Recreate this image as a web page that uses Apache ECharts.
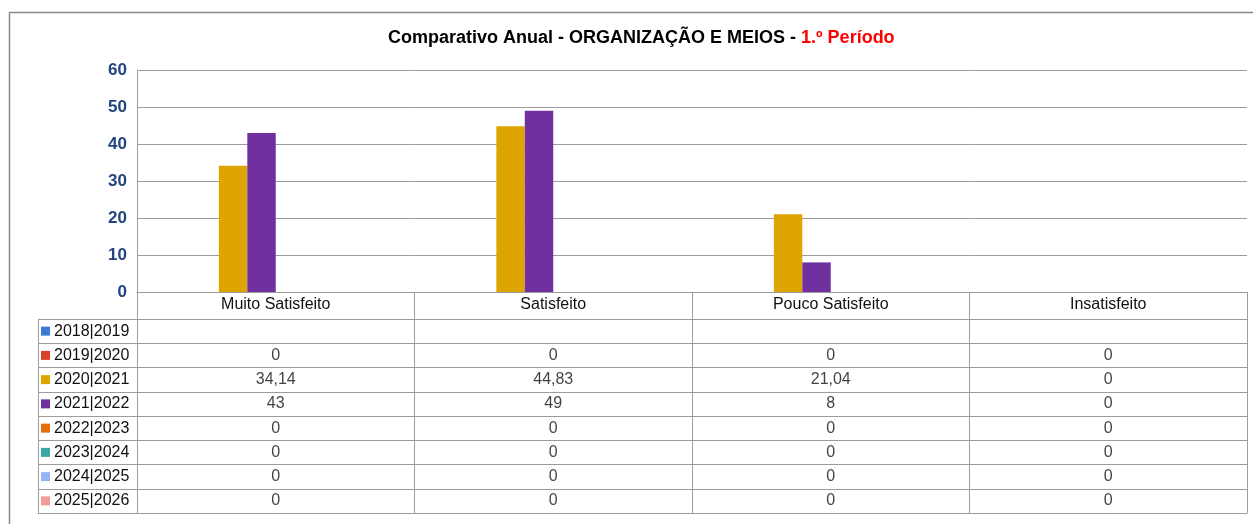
<!DOCTYPE html>
<html>
<head>
<meta charset="utf-8">
<title>Comparativo Anual</title>
<script src="https://cdn.jsdelivr.net/npm/echarts@6/dist/echarts.min.js"></script>
<style>
  html, body { margin: 0; padding: 0; background: #fff; }
  #container { width: 1253px; height: 524px; }
</style>
</head>
<body>
<div id="container"></div>
<script>
// dados
var categorias = ['Muito Satisfeito', 'Satisfeito', 'Pouco Satisfeito', 'Insatisfeito'];
var anos = ['2018|2019', '2019|2020', '2020|2021', '2021|2022', '2022|2023', '2023|2024', '2024|2025', '2025|2026'];
var v2018 = [null, null, null, null];
var v2019 = [0, 0, 0, 0];
var v2020 = [34.14, 44.83, 21.04, 0];
var v2021 = [43, 49, 8, 0];
var v2022 = [0, 0, 0, 0];
var v2023 = [0, 0, 0, 0];
var v2024 = [0, 0, 0, 0];
var v2025 = [0, 0, 0, 0];
var valores = [v2018, v2019, v2020, v2021, v2022, v2023, v2024, v2025];
var cores = ['#3a7bd5', '#d9412b', '#dea500', '#7030a0', '#e46c0a', '#3aa6a6', '#95b3f5', '#f29b98'];

document.addEventListener('DOMContentLoaded', function () {
    var dom = document.getElementById('container');
    var myChart = echarts.init(dom);

    var gridCor = '#9c9c9c';
    var fonte = 'Liberation Sans, Arial, sans-serif';

    // séries de barras (uma por ano lectivo)
    var series = anos.map(function (ano, i) {
        return {
            name: ano,
            type: 'bar',
            xAxisIndex: 0,
            yAxisIndex: 0,
            barGap: '0%',
            barCategoryGap: '18%',
            itemStyle: { color: cores[i] },
            data: valores[i]
        };
    });

    // tabela de dados por baixo do gráfico
    var celulas = [];
    valores.forEach(function (linha, i) {
        linha.forEach(function (v, j) {
            if (v !== null) celulas.push([categorias[j], anos[i], v]);
        });
    });
    series.push({
        type: 'scatter',
        xAxisIndex: 1,
        yAxisIndex: 1,
        symbolSize: 1,
        itemStyle: { color: 'transparent' },
        silent: true,
        label: {
            show: true,
            position: 'inside',
            color: '#111',
            fontFamily: fonte,
            fontSize: 16,
            formatter: function (p) { return String(p.value[2]).replace('.', ','); }
        },
        data: celulas
    });

    var rich = { t: { color: '#111', fontFamily: fonte, fontSize: 16, padding: [0, 0, 0, 4] } };
    cores.forEach(function (c, i) {
        rich['c' + i] = { width: 9, height: 9, backgroundColor: c };
    });

    var option = {
        animation: false,
        title: {
            text: '{a|Comparativo Anual - ORGANIZAÇÃO E MEIOS - }{b|1.º Período}',
            left: 383,
            top: 24,
            textStyle: {
                rich: {
                    a: { fontFamily: fonte, fontSize: 18, fontWeight: 'bold', color: '#000' },
                    b: { fontFamily: fonte, fontSize: 18, fontWeight: 'bold', color: '#ff0000' }
                }
            }
        },
        grid: [
            { left: 137, right: 6, top: 70, height: 222 },
            { left: 137, right: 6, top: 319, height: 194 }
        ],
        xAxis: [
            {
                type: 'category',
                gridIndex: 0,
                data: categorias,
                axisLine: { lineStyle: { color: gridCor } },
                axisTick: { show: true, length: 27, lineStyle: { color: gridCor } },
                axisLabel: { color: '#111', fontFamily: fonte, fontSize: 16, margin: 5, interval: 0 }
            },
            {
                type: 'category',
                gridIndex: 1,
                position: 'top',
                data: categorias,
                axisLine: { lineStyle: { color: gridCor } },
                axisTick: { show: false },
                axisLabel: { show: false },
                splitLine: { show: true, lineStyle: { color: gridCor } }
            }
        ],
        yAxis: [
            {
                type: 'value',
                gridIndex: 0,
                min: 0,
                max: 60,
                interval: 10,
                axisLine: { show: true, lineStyle: { color: gridCor } },
                axisTick: { show: false },
                axisLabel: { color: '#23457f', fontFamily: fonte, fontSize: 17, fontWeight: 'bold', margin: 10 },
                splitLine: { lineStyle: { color: gridCor } }
            },
            {
                type: 'category',
                gridIndex: 1,
                inverse: true,
                data: anos,
                axisLine: { show: true, lineStyle: { color: gridCor } },
                axisTick: { show: true, length: 99, lineStyle: { color: gridCor } },
                axisLabel: {
                    align: 'left',
                    margin: 96,
                    formatter: function (v, i) { return '{c' + i + '|}{t|' + v + '}'; },
                    rich: rich
                },
                splitLine: { show: true, lineStyle: { color: gridCor } }
            },
            {
                // linha esquerda da coluna de legendas
                type: 'value',
                gridIndex: 1,
                position: 'left',
                offset: 99,
                axisLine: { show: true, lineStyle: { color: gridCor } },
                axisTick: { show: false },
                axisLabel: { show: false },
                splitLine: { show: false }
            }
        ],
        graphic: [
            {
                type: 'polyline',
                shape: { points: [[9.5, 524], [9.5, 12.5], [1253, 12.5]] },
                style: { stroke: '#8a8a8a', lineWidth: 1.5, fill: null },
                silent: true
            }
        ],
        series: series
    };

    myChart.setOption(option);
    window.addEventListener('resize', myChart.resize);
});
</script>
</body>
</html>
